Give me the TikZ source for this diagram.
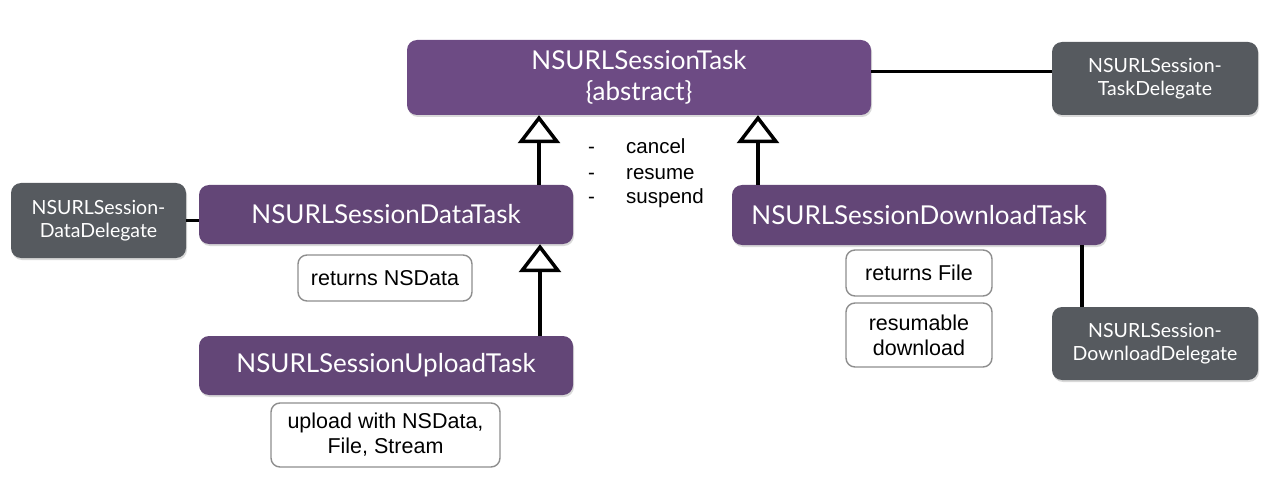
\documentclass[tikz,border=0pt]{standalone}
\usepackage{fontspec}
\setmainfont{Liberation Sans}
\newfontfamily\gillish{Lato}
\usetikzlibrary{arrows.meta,positioning,shadows}

\definecolor{plum}{HTML}{634677}
\definecolor{plumtop}{HTML}{6D4B84}
\definecolor{slate}{HTML}{565A5F}
\definecolor{rim}{HTML}{8E8E8E}

\begin{document}
\begin{tikzpicture}[x=1pt,y=-1pt,
    cls/.style={rounded corners=10pt, fill=plum, text=white, align=center, inner sep=0pt,
      font=\gillish\fontsize{26}{31}\selectfont,
      drop shadow={opacity=0.3, shadow xshift=1pt, shadow yshift=-2pt}},
    dlg/.style={cls, fill=slate, font=\gillish\fontsize{19.5}{23}\selectfont},
    note/.style={draw=rim, line width=1.4pt, rounded corners=9pt, fill=white, align=center,
      inner sep=0pt, font=\fontsize{21.5}{25}\selectfont},
    link/.style={line width=3.5pt},
    inherit/.style={line width=3.5pt, -{Triangle[open, length=28pt, width=42pt]}},
    listtext/.style={anchor=base west, inner sep=0pt, font=\fontsize{20.5}{24}\selectfont}]
  \useasboundingbox (0,0) rectangle (1270,500);

  % classes
  \node[cls, fill=plumtop, minimum width=464pt, minimum height=75pt] (task) at (639,77.5) {NSURLSessionTask\\\{abstract\}};
  \node[cls, minimum width=374pt, minimum height=59pt] (data) at (386,214.5) {NSURLSessionDataTask};
  \node[cls, minimum width=374pt, minimum height=60pt] (down) at (919,215) {NSURLSessionDownloadTask};
  \node[cls, minimum width=374pt, minimum height=59pt] (upload) at (386,365.5) {NSURLSessionUploadTask};

  % delegates
  \node[dlg, minimum width=206pt, minimum height=73pt] (taskdel) at (1155,78.5) {NSURLSession-\\TaskDelegate};
  \node[dlg, minimum width=175pt, minimum height=75pt] (datadel) at (98.5,220.5) {NSURLSession-\\DataDelegate};
  \node[dlg, minimum width=206pt, minimum height=73pt] (downdel) at (1155,343.5) {NSURLSession-\\DownloadDelegate};

  % notes
  \node[note, minimum width=174pt, minimum height=46pt] (retdata) at (385,278) {returns NSData};
  \node[note, minimum width=229pt, minimum height=64pt] (upnote) at (385.5,435) {upload with NSData,\\File, Stream};
  \node[note, minimum width=146pt, minimum height=46pt] (retfile) at (919,273) {returns File};
  \node[note, minimum width=146pt, minimum height=64pt] (resume) at (919,335) {resumable\\download};

  % operations
  \foreach \op [count=\i] in {cancel,resume,suspend}
  {
    \node[listtext] (dash\i) at (588,{154+25*(\i-1)}) {-};
    \node[listtext] (op\i) at (626,{154+25*(\i-1)}) {\op};
  }

  % connectors
  \coordinate (ix1) at (539,0);
  \coordinate (ix2) at (758,0);
  \coordinate (ix3) at (540,0);
  \coordinate (ix4) at (1082,0);
  \draw[inherit] (ix1 |- data.north) -- (ix1 |- task.south);
  \draw[inherit] (ix2 |- down.north) -- (ix2 |- task.south);
  \draw[inherit] (ix3 |- upload.north) -- (ix3 |- data.south);
  \draw[link] ([yshift=6pt]task.east) -- ([yshift=6pt]task.east -| taskdel.west);
  \draw[link] (datadel.east) -- (datadel.east -| data.west);
  \draw[link] (ix4 |- down.south) -- (ix4 |- downdel.north);
\end{tikzpicture}
\end{document}
